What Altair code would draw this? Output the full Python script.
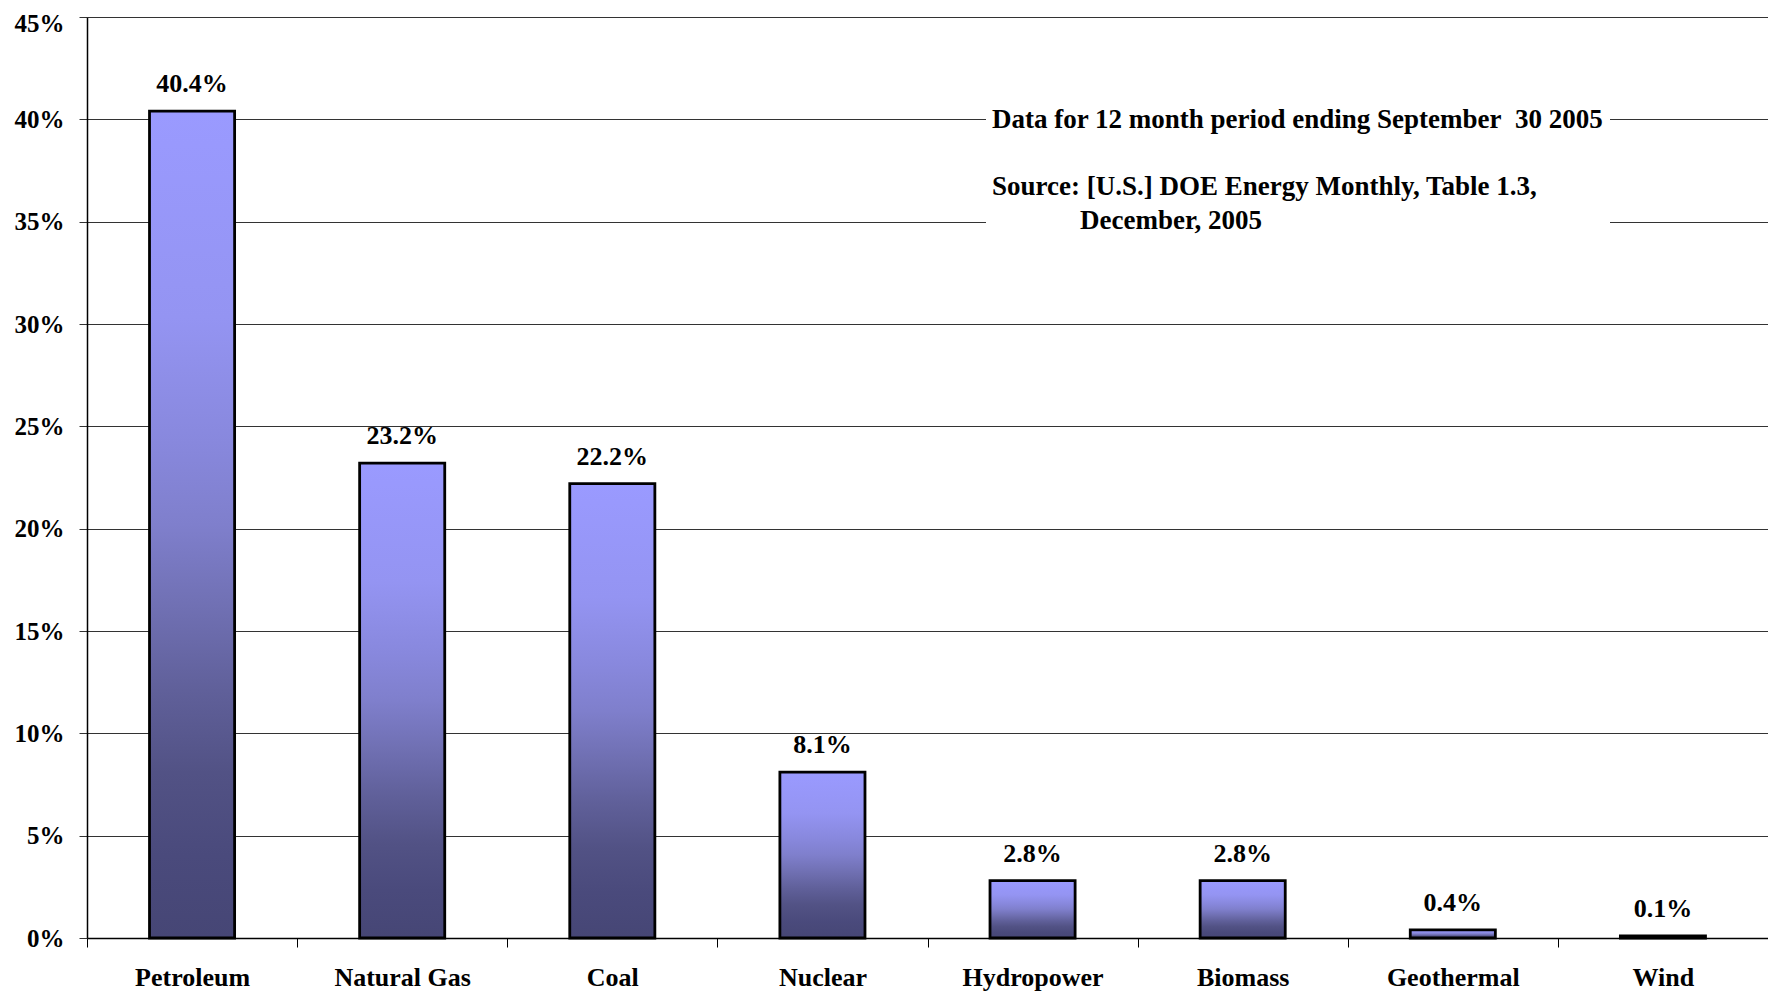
import altair as alt
import pandas as pd

categories = ["Petroleum", "Natural Gas", "Coal", "Nuclear", "Hydropower",
              "Biomass", "Geothermal", "Wind"]
shares = [0.404, 0.232, 0.222, 0.081, 0.028, 0.028, 0.004, 0.001]
labels = ["40.4%", "23.2%", "22.2%", "8.1%", "2.8%", "2.8%", "0.4%", "0.1%"]
y_ticks = [0, 0.05, 0.10, 0.15, 0.20, 0.25, 0.30, 0.35, 0.40, 0.45]
note_lines = ["Data for 12 month period ending September\u00a0 30 2005",
              "Source: [U.S.] DOE Energy Monthly, Table 1.3,",
              "December, 2005"]

df = pd.DataFrame({"source": categories, "share": shares, "label": labels})

FONT = "Liberation Serif"
W, H = 1681, 921

x_enc = alt.X("source:N", sort=categories, title=None,
              scale=alt.Scale(paddingInner=0, paddingOuter=0),
              axis=alt.Axis(labelAngle=0, labelFont=FONT, labelFontSize=26,
                            labelFontWeight="bold", labelColor="black",
                            tickBand="extent", tickSize=9, tickColor="black",
                            domainColor="black", domainWidth=1.5, labelPadding=17))
y_enc = alt.Y("share:Q", title=None,
              scale=alt.Scale(domain=[0, 0.45], nice=False),
              axis=alt.Axis(values=y_ticks, format=".0%", labelFont=FONT,
                            labelFontSize=25, labelFontWeight="bold",
                            labelColor="black", grid=True, gridColor="#333",
                            gridWidth=1, tickColor="#333", tickSize=8,
                            domainColor="black", domainWidth=1.5,
                            labelPadding=15,
                            labelOffset=alt.condition("datum.value >= 0.449",
                                                      alt.value(6), alt.value(0))))

grad = alt.Gradient(
    gradient="linear", x1=0, x2=0, y1=0, y2=1,
    stops=[alt.GradientStop(color="#9a9aff", offset=0),
           alt.GradientStop(color="#9494f2", offset=0.25),
           alt.GradientStop(color="#8888dd", offset=0.4),
           alt.GradientStop(color="#7f7fcc", offset=0.5),
           alt.GradientStop(color="#7070b3", offset=0.6),
           alt.GradientStop(color="#60609a", offset=0.7),
           alt.GradientStop(color="#525285", offset=0.8),
           alt.GradientStop(color="#4a4a7c", offset=0.9),
           alt.GradientStop(color="#464675", offset=1)])

bars = alt.Chart(df).mark_bar(
    fill=grad, stroke="black", strokeWidth=2.8,
    width=alt.RelativeBandSize(0.405)
).encode(x=x_enc, y=y_enc)

text = alt.Chart(df).mark_text(
    font=FONT, fontSize=26, fontWeight="bold", color="black",
    baseline="alphabetic", dy=-19
).encode(x=alt.X("source:N", sort=categories), y="share:Q", text="label:N")

box_df = pd.DataFrame({"k": [0]})
box = alt.Chart(box_df).mark_rect(color="white").encode(
    x=alt.value(899), x2=alt.value(1523), y=alt.value(80), y2=alt.value(228))

note_df = pd.DataFrame({"t": note_lines, "px": [905, 905, 993],
                        "py": [111, 178, 212]})
notes = alt.Chart(note_df).mark_text(
    font=FONT, fontSize=27, fontWeight="bold", color="black",
    align="left", baseline="alphabetic"
).encode(x=alt.X("px:Q", scale=None), y=alt.Y("py:Q", scale=None), text="t:N")

chart = alt.layer(bars, text, box, notes).properties(
    width=W, height=H,
    autosize=alt.AutoSizeParams(type="none"),
    padding={"left": 79, "top": 9, "right": 0, "bottom": 56}
).configure_view(stroke=None).configure(background="white")

chart.save("out.html", embed_options={"renderer": "svg", "actions": False})
